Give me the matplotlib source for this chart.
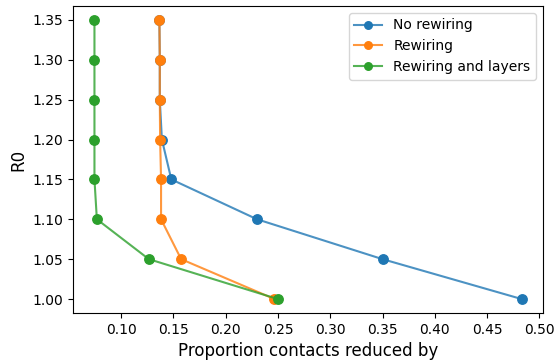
import matplotlib
matplotlib.use("Agg")
import matplotlib.pyplot as plt
from matplotlib.colors import to_rgba

r0 = [1.00, 1.05, 1.10, 1.15, 1.20, 1.25, 1.30, 1.35]
no_rewiring = [0.483, 0.350, 0.230, 0.148, 0.139, 0.137, 0.137, 0.1366]
rewiring = [0.2466, 0.1574, 0.1382, 0.1382, 0.1373, 0.137, 0.137, 0.1366]
rewiring_layers = [0.2498, 0.1265, 0.0768, 0.0745, 0.0745, 0.0745, 0.0745, 0.0745]

fig = plt.figure(figsize=(5.58, 3.6), dpi=100)
ax = fig.add_axes([0.131, 0.1306, 0.842, 0.853])
ms = 6.8
for xs, lab, c in [(no_rewiring, 'No rewiring', '#1f77b4'),
                   (rewiring, 'Rewiring', '#ff7f0e'),
                   (rewiring_layers, 'Rewiring and layers', '#2ca02c')]:
    ax.plot(xs, r0, marker='o', ms=ms, label=lab,
            color=to_rgba(c, 0.8), mfc=c, mec=c)
ax.set_xlabel('Proportion contacts reduced by', fontsize=12)
ax.set_ylabel('R0', fontsize=12)
ax.legend(loc='upper right', markerscale=0.8)
fig.savefig('out.png', dpi=100)
